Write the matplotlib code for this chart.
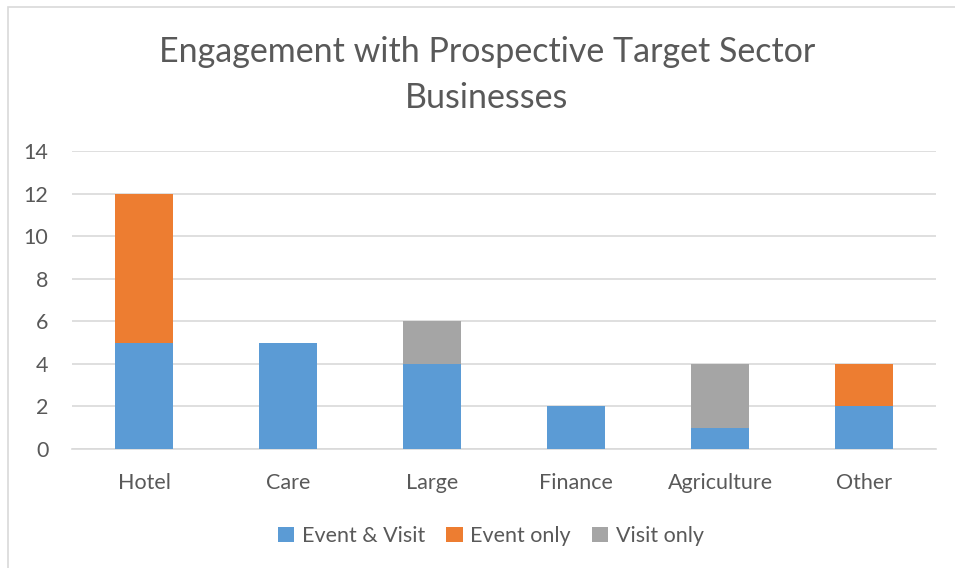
import matplotlib.pyplot as plt
import numpy as np

# data
sectors = ["Hotel", "Care", "Large", "Finance", "Agriculture", "Other"]
event_and_visit = [5, 5, 4, 2, 1, 2]
event_only = [7, 0, 0, 0, 0, 2]
visit_only = [0, 0, 2, 0, 3, 0]

plt.rcParams['font.family'] = ['Lato', 'DejaVu Sans']

fig = plt.figure(figsize=(9.55, 5.68), dpi=100)
W, H = 955, 568

# chart border (only left/top edges are visible in the crop)
fig.add_artist(plt.Rectangle((7.5 / W, -0.1), 1.2, (H - 7.5) / H + 0.1,
                             transform=fig.transFigure, fill=False,
                             edgecolor='#D9D9D9', linewidth=1.2))

# plot area in pixels: x 72..936, y 151 (14) .. 449 (0)
ax = fig.add_axes([72 / W, (H - 449) / H, (936 - 72) / W, (449 - 151) / H])

x = np.arange(len(sectors))
bw = 0.396
b1 = np.array(event_and_visit)
b2 = b1 + np.array(event_only)
ax.bar(x, event_and_visit, bw, color='#5B9BD5', label='Event & Visit', zorder=3)
ax.bar(x, event_only, bw, bottom=b1, color='#ED7D31', label='Event only', zorder=3)
ax.bar(x, visit_only, bw, bottom=b2, color='#A5A5A5', label='Visit only', zorder=3)

ax.set_xlim(-0.5, len(sectors) - 0.5)
ax.set_ylim(0, 14)
ax.set_yticks(range(0, 15, 2))
ax.yaxis.grid(True, color='#D9D9D9', linewidth=1.2, zorder=0)
for s in ax.spines.values():
    s.set_visible(False)
ax.spines['bottom'].set_visible(True)
ax.spines['bottom'].set_color('#D9D9D9')
ax.spines['bottom'].set_linewidth(1.2)
ax.tick_params(length=0, labelsize=15.5, labelcolor='#595959')
ax.tick_params(axis='x', pad=17)
ax.tick_params(axis='y', pad=17)
ax.set_xticks(x)
ax.set_xticklabels(sectors)

fig.text(487 / W, 1 - 75 / H, "Engagement with Prospective Target Sector\nBusinesses",
         ha='center', va='center', fontsize=24.5, color='#595959',
         linespacing=1.55)

fig.legend(loc='center', bbox_to_anchor=(491 / W, 1 - 536 / H), ncol=3,
           frameon=False, fontsize=15.5, labelcolor='#595959',
           handlelength=0.75, handleheight=0.75, handletextpad=0.35,
           columnspacing=1.0)

fig.savefig('out.png', dpi=100)
